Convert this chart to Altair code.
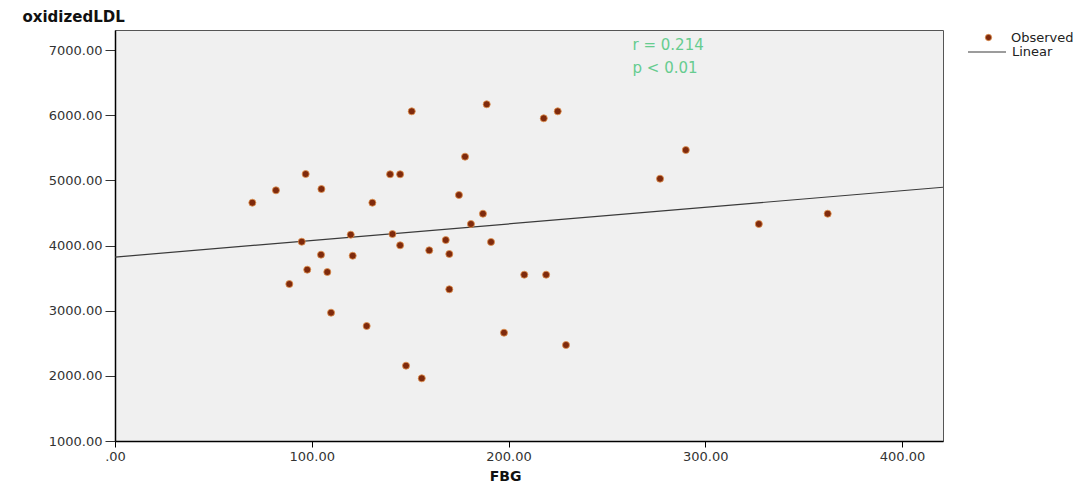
import altair as alt
import pandas as pd

fbg = [69.8, 81.8, 96.9, 104.9, 94.9, 119.8, 104.7, 120.8, 97.7, 107.9, 88.6, 109.8,
       150.8, 188.9, 217.9, 225.0, 177.9, 139.8, 144.9, 130.8, 174.8, 187.0, 180.9,
       141.0, 144.9, 168.1, 159.7, 169.9, 191.1, 208.0, 219.1, 169.9, 127.9, 197.7,
       229.2, 147.9, 155.9, 290.1, 277.0, 327.2, 362.2]
oxldl = [4657, 4847, 5097, 4867, 4058, 4166, 3859, 3843, 3629, 3593, 3409, 2969,
         6059, 6167, 5952, 6059, 5363, 5093, 5093, 4657, 4775, 4488, 4330,
         4176, 4003, 4084, 3926, 3870, 4054, 3552, 3552, 3328, 2765, 2662,
         2473, 2156, 1962, 5465, 5025, 4330, 4488]

# Linear fit line endpoints (as drawn)
fit_x = [0, 420.8]
fit_y = [3822, 4894]

# Annotation
annot_text = ["r = 0.214", "p < 0.01"]
annot_x = [263, 263]
annot_y = [7077, 6724]

x_ticks = [0, 100, 200, 300, 400]
y_ticks = [1000, 2000, 3000, 4000, 5000, 6000, 7000]

points_df = pd.DataFrame({"FBG": fbg, "oxidizedLDL": oxldl, "series": ["Observed"] * len(fbg)})
line_df = pd.DataFrame({"FBG": fit_x, "oxidizedLDL": fit_y, "series": ["Linear"] * len(fit_x)})
annot_df = pd.DataFrame({"FBG": annot_x, "oxidizedLDL": annot_y, "text": annot_text})

FONT = "DejaVu Sans"
xscale = alt.Scale(domain=[0, 420.8], nice=False, zero=False)
yscale = alt.Scale(domain=[1000, 7307], nice=False, zero=False)

xaxis = alt.Axis(
    values=x_ticks,
    labelExpr="datum.value == 0 ? '.00' : format(datum.value, '.2f')",
    title="FBG", titleFontWeight="bold", titleFontSize=14, titleColor="#111",
    titleX=390, titleY=35, titleAlign="center", titleBaseline="middle",
    grid=False, tickSize=6, tickColor="#000", labelPadding=3, labelFlush=False,
    domainColor="#000", domainWidth=1.5, labelFontSize=13, labelColor="#333",
    labelFont=FONT, titleFont=FONT,
)
yaxis = alt.Axis(
    values=y_ticks, format=".2f",
    title="oxidizedLDL", titleFontWeight="bold", titleFontSize=15, titleColor="#111",
    titleAngle=0, titleAlign="left", titleBaseline="alphabetic", titleX=-93, titleY=-9,
    grid=False, tickSize=10, tickColor="#333", labelPadding=3, labelFlush=False,
    domainColor="#000", domainWidth=1.5, labelFontSize=13, labelColor="#333",
    labelFont=FONT, titleFont=FONT,
)

X = alt.X("FBG:Q", scale=xscale, axis=xaxis)
Y = alt.Y("oxidizedLDL:Q", scale=yscale, axis=yaxis)

ln = alt.Chart(line_df).mark_line(strokeWidth=1.2).encode(
    x=X, y=Y,
    stroke=alt.Stroke(
        "series:N",
        scale=alt.Scale(domain=["Linear"], range=["#3a3a3a"]),
        legend=alt.Legend(orient="none", legendX=852, legendY=2, title=None,
                          symbolType="stroke", symbolSize=1444, symbolStrokeWidth=1.2,
                          labelOffset=5, labelFontSize=13, labelFont=FONT, labelColor="#222"),
    ),
)

pts = alt.Chart(points_df).mark_circle(size=50, opacity=1, stroke="#e39450", strokeWidth=0.8).encode(
    x=X, y=Y,
    fill=alt.Fill(
        "series:N",
        scale=alt.Scale(domain=["Observed"], range=["#7f2a0c"]),
        legend=alt.Legend(orient="none", legendX=867, legendY=1, title=None,
                          symbolSize=40, labelOffset=16, labelFontSize=13,
                          labelFont=FONT, labelColor="#222", symbolStrokeColor="#e39450",
                          symbolStrokeWidth=0.8),
    ),
)

ann = alt.Chart(annot_df).mark_text(
    align="left", baseline="middle", fontSize=15, color="#66cc8f", font=FONT
).encode(x=X, y=Y, text="text:N")

chart = alt.layer(ln, pts, ann).properties(
    width=828, height=411,
    padding={"left": 115, "top": 30, "right": 139, "bottom": 43},
    autosize=alt.AutoSizeParams(type="none"),
).configure_view(fill="#f0f0f0", stroke="#555", strokeWidth=1)

chart.save("out.html", embed_options={"renderer": "svg", "actions": False})
